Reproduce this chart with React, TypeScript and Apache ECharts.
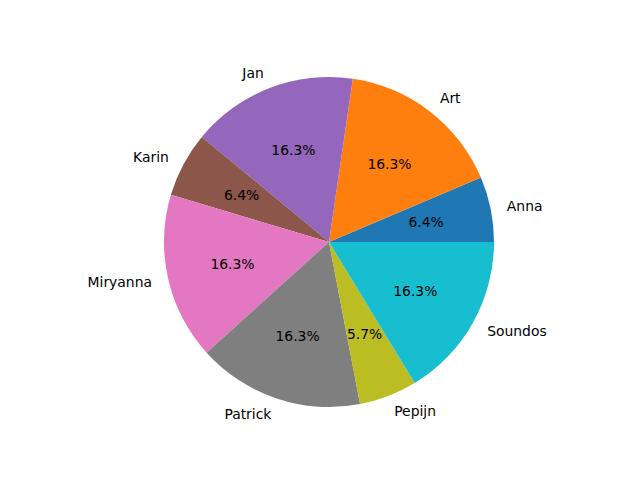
import React, { useEffect, useRef } from "react";
import * as echarts from "echarts";

const names = ["Anna", "Art", "Jan", "Karin", "Miryanna", "Patrick", "Pepijn", "Soundos"];
const values = [9, 23, 23, 9, 23, 23, 8, 23];
const colors = ["#1f77b4", "#ff7f0e", "#9467bd", "#8c564b", "#e377c2", "#7f7f7f", "#bcbd22", "#17becf"];

export default function App() {
  const ref = useRef<HTMLDivElement>(null);
  useEffect(() => {
    if (!ref.current) return;
    const chart = echarts.init(ref.current, undefined, { renderer: "svg" });
    const total = values.reduce((a, b) => a + b, 0);
    const data = names.map((n, i) => ({ name: n, value: values[i], itemStyle: { color: colors[i] } }));
    const font = { fontFamily: "DejaVu Sans", fontSize: 13.9, color: "#000" };
    chart.setOption({
      animation: false,
      backgroundColor: "#ffffff",
      series: [
        {
          type: "pie",
          center: [329, 242],
          radius: [0, 165],
          startAngle: 0,
          clockwise: false,
          avoidLabelOverlap: false,
          silent: true,
          data,
          itemStyle: { borderWidth: 0 },
          label: {
            show: true,
            position: "outside",
            formatter: "{b}",
            distanceToLabelLine: 0,
            ...font,
          },
          labelLine: { show: false, length: 16.5, length2: 0 },
          emphasis: { disabled: true },
        },
        {
          type: "pie",
          center: [329, 242],
          radius: [27, 165],
          startAngle: 0,
          clockwise: false,
          avoidLabelOverlap: false,
          silent: true,
          data: names.map((n, i) => ({ name: n, value: values[i] })),
          itemStyle: { color: "rgba(0,0,0,0)", borderWidth: 0 },
          label: {
            show: true,
            position: "inside",
            formatter: (p: any) => ((p.value / total) * 100).toFixed(1) + "%",
            ...font,
          },
          labelLine: { show: false },
          emphasis: { disabled: true },
        },
      ],
    });
    return () => chart.dispose();
  }, []);
  return <div ref={ref} style={{ position: "fixed", left: 0, top: 0, width: 640, height: 480 }} />;
}
